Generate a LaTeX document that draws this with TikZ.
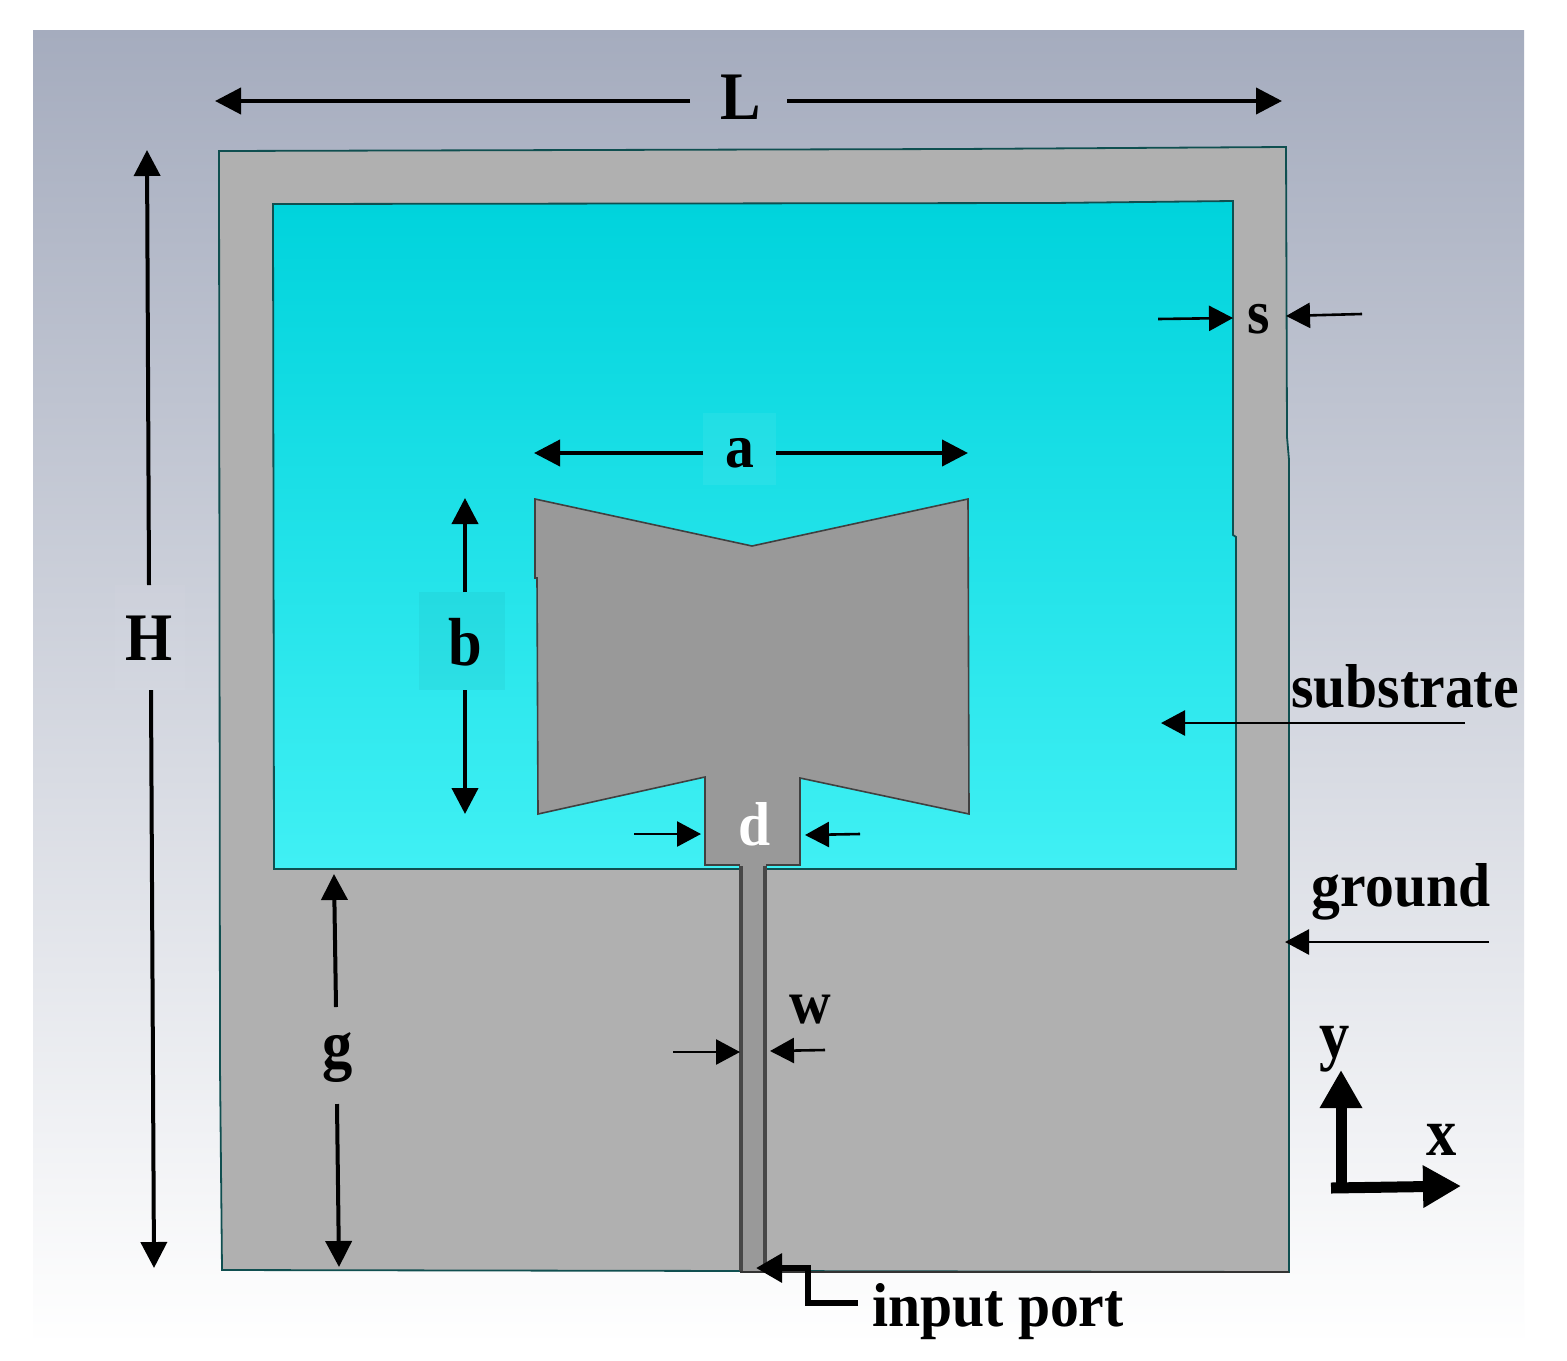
\documentclass[tikz,border=0pt]{standalone}
\usepackage{fontspec}
\setmainfont{Liberation Serif}
\newfontfamily\lblfont[FakeStretch=0.93]{Liberation Serif}
\newfontfamily\bigfont[FakeStretch=0.89]{Liberation Serif}
\usetikzlibrary{arrows.meta,calc}
\definecolor{groundc}{HTML}{B0B0B0}
\definecolor{patchc}{HTML}{999999}
\definecolor{edgec}{HTML}{0F4F50}
\definecolor{cyantop}{HTML}{00D3DC}
\definecolor{cyanmid}{HTML}{1EE4EA}
\definecolor{cyanbot}{HTML}{40F0F4}
\tikzset{
  lbl/.style={font=\lblfont\bfseries\fontsize{31}{31}\selectfont,inner sep=0pt,text=black},
  biglbl/.style={font=\bigfont\bfseries\fontsize{34}{34}\selectfont,inner sep=0pt,text=black},
  dim/.style={line width=2pt,-{Triangle[length=13pt,width=13pt]},black},
  thin dim/.style={line width=1.3pt,-{Triangle[length=12pt,width=12.5pt]},black},
  axis arrow/.style={line width=5.5pt,-{Triangle[length=19pt,width=20pt]},black},
  port/.style={line width=3pt,-{Triangle[length=13pt,width=14pt]},black},
}
\begin{document}
\begin{tikzpicture}[x=0.5pt,y=-0.5pt]
\useasboundingbox (0,0) rectangle (1567,1360);
\fill[white] (0,0) rectangle (1567,1360);
% background gradient
\shade[top color={rgb,255:red,165;green,172;blue,190},middle color={rgb,255:red,214;green,217;blue,227},bottom color=white,shading angle=0]
  (33,30) rectangle (1524,1345);
% ground plane
\filldraw[fill=groundc,draw=edgec,line width=0.9pt]
  (219,151) -- (957,149) -- (1286,147) -- (1287,437) -- (1289,460) -- (1289,1272)
  -- (222,1270) -- (220,1066) -- cycle;
% substrate window
\shade[top color=cyantop,middle color=cyanmid,bottom color=cyanbot,draw=edgec,line width=0.9pt]
  (273,204) -- (1052,203) -- (1233,201) -- (1233,535) -- (1236,537) -- (1236,869)
  -- (274,869) -- cycle;
% patch
\filldraw[fill=patchc,draw=black!75,line width=0.8pt]
  (535,499) -- (752,546) -- (968,499) -- (969,814) -- (800,778) -- (800,865)
  -- (705,865) -- (705,777) -- (538,814) -- (537,578) -- (535,578) -- cycle;
% feed line
\fill[patchc] (740,864) rectangle (766,1271);
\draw[black!72,line width=2.4pt] (741,866) -- (741,1271);
\draw[black!72,line width=2.4pt] (765,866) -- (765,1271);
\draw[black!80,line width=0.9pt] (740,1272) -- (1289,1272);
% label patches
\fill[white,opacity=0.06] (703,413) rectangle (776,485);
\fill[black,opacity=0.035] (419,592) rectangle (505,690);
\fill[white,opacity=0.04] (115,585) rectangle (185,690);
% labels
\node[biglbl] (Ltxt) at (741,97) {L};
\node[biglbl] (Htxt) at (149,638) {H};
\node[lbl] (atxt) at (740,453) {a};
\node[biglbl] (btxt) at (465,642) {b};
\node[lbl] (stxt) at (1259,319) {s};
\node[lbl,text=white] (dtxt) at (755,824) {d};
\node[lbl] (wtxt) at (810,1010) {w};
\node[biglbl] (gtxt) at (338,1058) {g};
\node[lbl] (subtxt) at (1405,686) {substrate};
\node[lbl] (gndtxt) at (1401,892) {ground};
\node[lbl] (porttxt) at (998,1312) {input port};
\node[biglbl] (ytxt) at (1335,1049) {y};
\node[biglbl] (xtxt) at (1442,1140) {x};
% anchor coordinates
\coordinate (L1) at (215,101); \coordinate (L2) at (690,101);
\coordinate (L3) at (787,101); \coordinate (L4) at (1282,101);
\coordinate (H1) at (147,150); \coordinate (H2) at (149,585);
\coordinate (H3) at (151,690); \coordinate (H4) at (154,1268);
\coordinate (a1) at (534,453); \coordinate (a2) at (703,453);
\coordinate (a3) at (776,453); \coordinate (a4) at (968,453);
\coordinate (b1) at (465,498); \coordinate (b2) at (465,592);
\coordinate (b3) at (465,690); \coordinate (b4) at (465,814);
\coordinate (g1) at (334,874); \coordinate (g2) at (336,1007);
\coordinate (g3) at (337,1104); \coordinate (g4) at (339,1267);
\coordinate (s1) at (1158,319); \coordinate (s2) at (1233,318);
\coordinate (s3) at (1362,314); \coordinate (s4) at (1286,316);
\coordinate (d1) at (634,834); \coordinate (d2) at (701,834);
\coordinate (d3) at (860,834); \coordinate (d4) at (805,835);
\coordinate (w1) at (673,1052); \coordinate (w2) at (740,1052);
\coordinate (w3) at (825,1050); \coordinate (w4) at (770,1051);
\coordinate (sub1) at (1465,723); \coordinate (sub2) at (1161,723);
\coordinate (gnd1) at (1489,942); \coordinate (gnd2) at (1285,942);
\coordinate (p1) at (858,1303); \coordinate (p2) at (808,1303);
\coordinate (p3) at (808,1268); \coordinate (p4) at (756,1268);
\coordinate (o1) at (1341,1192); \coordinate (o2) at (1341,1070);
\coordinate (o3) at (1331,1188); \coordinate (o4) at (1461,1186);
% dimension arrows
\draw[dim] (L2) -- (L1);
\draw[dim] (L3) -- (L4);
\draw[dim] (H2) -- (H1);
\draw[dim] (H3) -- (H4);
\draw[dim] (a2) -- (a1);
\draw[dim] (a3) -- (a4);
\draw[dim] (b2) -- (b1);
\draw[dim] (b3) -- (b4);
\draw[dim] (g2) -- (g1);
\draw[dim] (g3) -- (g4);
\draw[thin dim] (s1) -- (s2);
\draw[thin dim] (s3) -- (s4);
\draw[thin dim] (d1) -- (d2);
\draw[thin dim] (d3) -- (d4);
\draw[thin dim] (w1) -- (w2);
\draw[thin dim] (w3) -- (w4);
\draw[thin dim] (sub1) -- (sub2);
\draw[thin dim] (gnd1) -- (gnd2);
\draw[port] (p1) -- (p2) -- (p3) -- (p4);
\draw[axis arrow] (o1) -- (o2);
\draw[axis arrow] (o3) -- (o4);
\end{tikzpicture}
\end{document}
